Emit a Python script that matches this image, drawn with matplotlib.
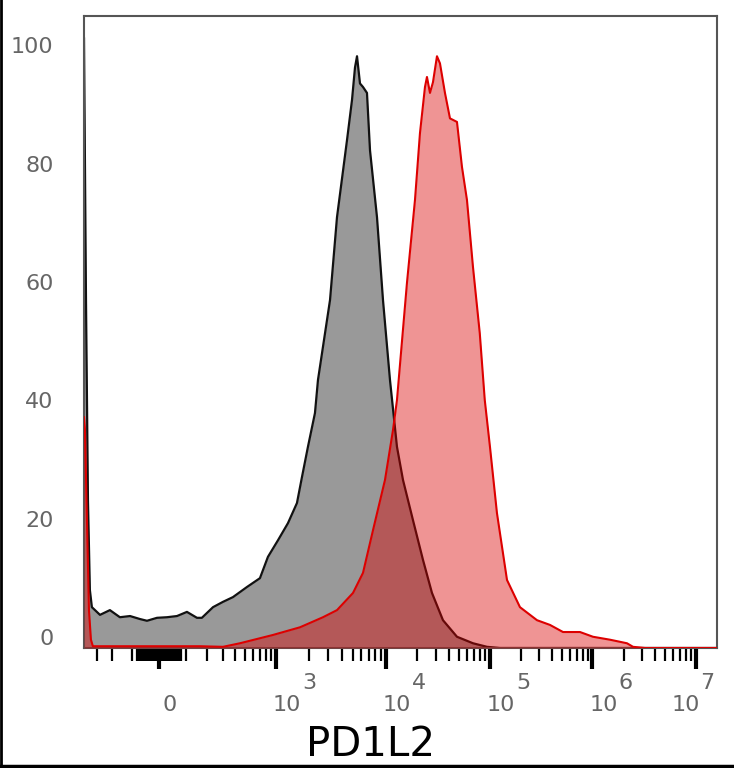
import numpy as np
import matplotlib
matplotlib.use("Agg")
import matplotlib.pyplot as plt
from matplotlib.lines import Line2D
from matplotlib.transforms import ScaledTranslation, blended_transform_factory

# ---- data (fluorescence intensity, % of max) ----
gray_x = [-408, -389, -371, -354, -337, -275, -211, -157, -110, -70, -43, -7, 28, 64,
          103, 147, 171, 233, 300, 381, 525, 703, 839, 1044, 1289, 1557, 1730, 1960, 2270,
          2418, 3110, 3598, 4433, 4922, 5240, 5465, 5815, 6193, 6729, 7168, 8294, 9399,
          10930, 12760, 14580, 18190, 22690, 27700, 35330, 48170, 68650, 93600, 125200,
          1.596e7]
gray_y = [103, 58.8, 25, 9.8, 6.9, 5.6, 6.4, 5.2, 5.4, 4.9, 4.6, 5.1, 5.2, 5.4,
          6.1, 5.1, 5.1, 6.9, 7.8, 8.6, 10.3, 11.8, 15.4, 18.2, 21.1, 24.5, 28.9, 34, 39.7,
          45.3, 58.8, 72.8, 85.8, 92.6, 98.1, 100, 95.4, 94.8, 93.8, 84.1, 72.8, 58.8,
          45.3, 34, 28.4, 21.6, 14.9, 9.3, 4.7, 1.9, 0.8, 0.2, 0,
          0]

red_x = [-408, -399, -380, -362, -345, -329, -157, 2, 161, 300, 448, 936, 1659, 2684,
         3598, 5026, 6193, 7630, 9800, 11680, 12760, 15920, 19010, 21230, 23720, 24790,
         26500, 28310, 30940, 33060, 36930, 41260, 48170, 53810, 60110, 68650, 79800,
         89140, 100000, 117000, 146600, 196200, 287500, 385000, 515800, 755300, 1.011e6,
         1.477e6, 2.155e6, 2.463e6, 3.218e6, 1.596e7]
red_y = [39, 37, 21.6, 6.4, 1.4, 0.3, 0.3, 0.3, 0.3, 0.2, 0.8, 2.2, 3.5, 5.2,
         6.4, 9.3, 12.7, 19.9, 28.4, 36.8, 41.9, 61.7, 75.7, 87, 94.8, 96.5,
         93.8, 95.6, 100, 98.8, 93.8, 89.5, 88.9, 81.3, 75.7, 64.4, 53.2,
         41.9, 34, 22.8, 11.5, 6.9, 4.7, 3.9, 2.7, 2.7, 1.9,
         1.4, 0.8, 0.2, 0, 0]

y_ticks = [0, 20, 40, 60, 80, 100]
x_major = [0, 1e3, 1e4, 1e5, 1e6, 1e7]
x_major_labels = ["0", "10", "10", "10", "10", "10"]
x_exponents = ["", "3", "4", "5", "6", "7"]
x_label = "PD1L2"

# ---- biexponential-like display scale (arcsinh, with per-decade widths) ----
C = 160.0
LN10 = np.log(10)
T_ANCH = np.array([-2.0, 0.0, 1.1, 2.097, 3.097, 4.097, 5.097, 8.0])
P_ANCH = np.array([-48.2, 159.0, 276.0, 386.0, 490.0, 592.5, 696.0, 996.5])

def fwd(x):
    t = np.arcsinh(np.asarray(x, dtype=float) / C) / LN10
    return np.interp(t, T_ANCH, P_ANCH)

def inv(p):
    t = np.interp(np.asarray(p, dtype=float), P_ANCH, T_ANCH)
    return C * np.sinh(t * LN10)

fig = plt.figure(figsize=(7.34, 7.68), dpi=100)
ax = fig.add_axes([84/734, 1-648/768, (717-84)/734, (648-16)/768])
ax.set_xscale('function', functions=(fwd, inv))
ax.set_xlim(-408, 1.596e7)
ax.set_ylim(0, 106.8)

ax.fill_between(gray_x, gray_y, 0, color='#999999', lw=0, zorder=1)
ax.plot(gray_x, gray_y, color='#111111', lw=1.6, zorder=2)
ax.fill_between(red_x, red_y, 0, color=(0.86, 0.0, 0.0), alpha=0.42, lw=0, zorder=3)
ax.plot(red_x, red_y, color='#dd0000', lw=1.5, zorder=4)

for s in ax.spines.values():
    s.set_color('#555555')
    s.set_linewidth(1.5)

# y ticks
ax.set_yticks(y_ticks)
ax.set_yticklabels([str(v) for v in y_ticks])
ax.tick_params(axis='y', length=0, pad=22, labelsize=16, labelcolor='#666666')
for lab in ax.get_yticklabels():
    lab.set_transform(lab.get_transform() + ScaledTranslation(0, 0.11, fig.dpi_scale_trans))

# x ticks
minor = [-300, -200, -100] + [v for v in range(-80, 85, 5) if v != 0]
for dec in [100, 1000, 1e4, 1e5, 1e6]:
    minor += [k * dec for k in range(1, 10) if not (k == 1 and dec > 100)]
minor = [m for m in minor if m not in x_major]
ax.set_xticks(x_major)
ax.set_xticks(minor, minor=True)
ax.set_xticklabels([""] * len(x_major))
ax.tick_params(axis='x', which='major', length=15, width=3.0, color='black', direction='out')
ax.tick_params(axis='x', which='minor', length=9, width=1.6, color='black', direction='out')

tr = blended_transform_factory(ax.transData, ax.transAxes)
for i, (xv, lab, ex) in enumerate(zip(x_major, x_major_labels, x_exponents)):
    last = (i == len(x_major) - 1)
    off_base = -0.10 if last else 0.11
    off_exp = 0.11 if last else 0.33
    t1 = tr + ScaledTranslation(off_base, 0, fig.dpi_scale_trans)
    ax.text(xv, -(705-648)/632, lab, transform=t1, ha='center', va='center',
            fontsize=16, color='#666666', family='DejaVu Sans')
    if ex:
        t2 = tr + ScaledTranslation(off_exp, 0, fig.dpi_scale_trans)
        ax.text(xv, -(683-648)/632, ex, transform=t2, ha='center', va='center',
                fontsize=16, color='#666666', family='DejaVu Sans')

ax.text((371-84)/633, -(745-648)/632, x_label, transform=ax.transAxes,
        ha='center', va='center', fontsize=29, color='black', family='DejaVu Sans')

# figure frame lines (left and bottom)
fig.add_artist(Line2D([0.0015, 0.0015], [0, 1], transform=fig.transFigure, color='black', lw=2))
fig.add_artist(Line2D([0, 1], [0.003, 0.003], transform=fig.transFigure, color='black', lw=2.5))

fig.savefig('out.png', dpi=100)
